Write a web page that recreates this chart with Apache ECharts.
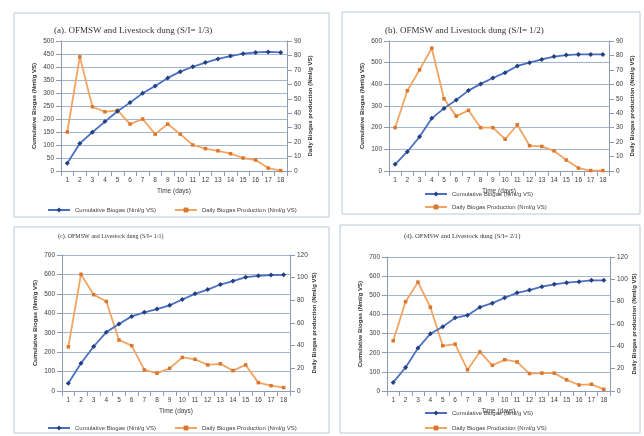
<!DOCTYPE html>
<html><head><meta charset="utf-8">
<script src="https://cdn.jsdelivr.net/npm/echarts@6/dist/echarts.min.js"></script>
<style>html,body{margin:0;padding:0;background:#fff}#c{width:644px;height:436px}</style>
</head><body><div id="c"></div>
<script>
const days = ['1','2','3','4','5','6','7','8','9','10','11','12','13','14','15','16','17','18'];
const titles = [
  '(a). OFMSW and Livestock dung (S/I= 1/3)',
  '(b). OFMSW and Livestock dung (S/I= 1/2)',
  '(c). OFMSW and Livestock dung (S/I= 1/1)',
  '(d). OFMSW and Livestock dung (S/I= 2/1)'
];
const cumName = 'Cumulative Biogas (Nml/g VS)';
const dailyName = 'Daily Biogas Production (Nml/g VS)';
const leftAxisName = 'Cumulative Biogas (Nml/g VS)';
const rightAxisName = 'Daily Biogas production (Nml/g VS)';
const xAxisName = 'Time (days)';

const cumA = [30,106,149,190,230,263,299,327,358,382,401,417,431,442,451,456,458,456];
const dailyA = [27,79,44.5,41,42,32.5,36,25.5,32.5,25.5,18,15.5,14,12,9,7.6,2,0.3];
const cumB = [31,89,158,243,289,328,371,402,429,454,485,500,515,528,535,538,538,538];
const dailyB = [30,55.6,70,85,50,38,42,30,30,22,32,17.5,17,14,7.6,2,0.3,0.3];
const cumC = [40,143,229,303,345,384,405,422,441,471,500,522,548,566,586,593,597,598];
const dailyC = [39,103,85,79,45,40,18.6,15.7,20,29.6,28,23,24,18,23,7.4,4.7,3];
const cumD = [45,123,224,299,336,382,396,438,459,487,513,527,545,557,566,571,578,578];
const dailyD = [45,80,97.5,75,40.5,42,19,35,23,28,26,15.6,16,16,10,5.4,6,1.5];

const leftMax = [500,600,700,700];
const leftStep = [50,100,100,100];
const rightMax = [90,90,120,120];
const rightStep = [10,10,20,20];

const cums = [cumA,cumB,cumC,cumD];
const dailies = [dailyA,dailyB,dailyC,dailyD];

// layout
const grids = [
  {left:61, right:357, top:41, bottom:265},
  {left:389, right:35, top:41, bottom:265},
  {left:62, right:354, top:255, bottom:45},
  {left:387, right:34, top:257, bottom:45}
];
const titlePos = [
  {left:49, top:21, size:9},
  {left:380, top:21, size:9},
  {left:53, top:228, size:6},
  {left:399, top:228, size:6.6}
];
const legendPos = [
  {left:42, top:202, orient:'horizontal', gap:18},
  {left:419, top:186, orient:'vertical', gap:7},
  {left:42, top:420, orient:'horizontal', gap:18},
  {left:419, top:405, orient:'vertical', gap:9}
];
const frames = [
  {x:14,y:13,w:315,h:204},
  {x:342,y:12,w:298,h:202},
  {x:14,y:227,w:315,h:206},
  {x:340,y:225,w:300,h:208}
];

const gridColor = '#a3b4d0';
const axisColor = '#8c9cb8';
const labelStyle = {fontSize:6.5, color:'#404040', fontFamily:'Liberation Sans'};

const option = {
  backgroundColor:'#fff',
  animation:false,
  title: titles.map((t,i)=>({text:t, left:titlePos[i].left, top:titlePos[i].top,
    textStyle:{fontSize:titlePos[i].size, fontWeight:'normal', color:'#333', fontFamily:'Liberation Serif'}})),
  grid: grids,
  legend: legendPos.map((p,i)=>({left:p.left, top:p.top, orient:p.orient, data:[cumName,dailyName],
    itemWidth:22, itemHeight:6, itemGap:p.gap,
    textStyle:{fontSize:6, color:'#404040', fontFamily:'Liberation Sans'}})),
  xAxis: grids.map((g,i)=>({type:'category', gridIndex:i, data:days, boundaryGap:true,
    name:xAxisName, nameLocation:'middle', nameGap:17,
    nameTextStyle:{fontSize:6.5, color:'#404040', fontFamily:'Liberation Sans'},
    axisLine:{lineStyle:{color:axisColor}}, axisTick:{show:true, lineStyle:{color:axisColor}},
    axisLabel:Object.assign({interval:0, margin:6}, labelStyle)})),
  yAxis: [],
  series: [],
  graphic: frames.map(f=>({type:'rect', shape:{x:f.x, y:f.y, width:f.w, height:f.h},
    style:{fill:'none', stroke:'#bcc7d8', lineWidth:1}, silent:true, z:-1}))
};

for (let i=0;i<4;i++){
  option.yAxis.push({type:'value', gridIndex:i, min:0, max:leftMax[i], interval:leftStep[i], position:'left',
    name:leftAxisName, nameLocation:'middle', nameRotate:90, nameGap:24,
    nameTextStyle:{fontSize:6, fontWeight:'bold', color:'#333', fontFamily:'Liberation Sans'},
    axisLine:{show:true, lineStyle:{color:axisColor}}, axisTick:{show:true, lineStyle:{color:axisColor}},
    splitLine:{show:true, lineStyle:{color:gridColor, width:1}},
    axisLabel:Object.assign({margin:7}, labelStyle)});
  option.yAxis.push({type:'value', gridIndex:i, min:0, max:rightMax[i], interval:rightStep[i], position:'right',
    name:rightAxisName, nameLocation:'middle', nameRotate:90, nameGap:20,
    nameTextStyle:{fontSize:6, fontWeight:'bold', color:'#333', fontFamily:'Liberation Sans'},
    axisLine:{show:true, lineStyle:{color:axisColor}}, axisTick:{show:true, lineStyle:{color:axisColor}},
    splitLine:{show:false},
    axisLabel:Object.assign({margin:7}, labelStyle)});
  option.series.push({name:cumName, type:'line', xAxisIndex:i, yAxisIndex:2*i, data:cums[i],
    symbol:'diamond', symbolSize:5, lineStyle:{color:'#4a6fbf', width:1.8},
    itemStyle:{color:'#23407f'}, z:3});
  option.series.push({name:dailyName, type:'line', xAxisIndex:i, yAxisIndex:2*i+1, data:dailies[i],
    symbol:'rect', symbolSize:3.5, lineStyle:{color:'#f2a562', width:1.8},
    itemStyle:{color:'#d9772e'}, z:2});
}

const chart = echarts.init(document.getElementById('c'), null, {renderer:'canvas'});
chart.setOption(option);
</script>
</body></html>
